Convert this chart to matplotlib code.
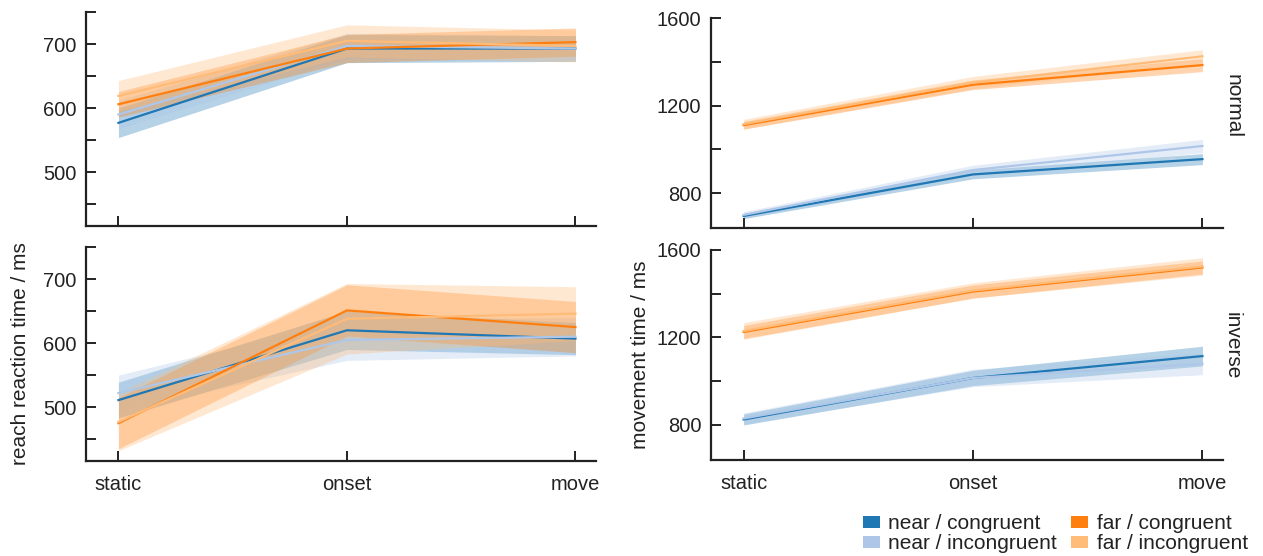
import numpy as np
import matplotlib
matplotlib.use("Agg")
from matplotlib import pyplot as plt
from matplotlib.patches import Patch
from matplotlib.ticker import MultipleLocator

plt.rcParams['font.family'] = ['Liberation Sans', 'DejaVu Sans']
plt.rcParams['font.size'] = 14.5

phases = ['static', 'onset', 'move']
conds = ['near / congruent', 'near / incongruent', 'far / congruent', 'far / incongruent']
colors = ['#1f77b4', '#aec7e8', '#ff7f0e', '#ffbb78']
ink = '#222222'

# reach reaction time (ms), means and half-widths of the bands
rt_normal = [[577, 693, 693], [590, 697, 693], [606, 693, 703], [619, 705, 697]]
rt_normal_ci = [[23, 22, 20], [22, 20, 20], [20, 22, 22], [24, 25, 25]]
rt_inverse = [[511, 620, 607], [522, 605, 610], [475, 651, 625], [477, 638, 646]]
rt_inverse_ci = [[28, 30, 25], [28, 32, 30], [40, 40, 40], [45, 55, 42]]

# movement time (ms)
mt_normal = [[695, 885, 955], [700, 905, 1015], [1110, 1295, 1385], [1115, 1305, 1425]]
mt_normal_ci = [[12, 20, 25], [15, 22, 30], [18, 22, 30], [22, 28, 30]]
mt_inverse = [[825, 1015, 1115], [830, 1015, 1080], [1225, 1410, 1520], [1230, 1415, 1525]]
mt_inverse_ci = [[25, 35, 45], [25, 40, 50], [30, 30, 30], [38, 35, 40]]

fig = plt.figure(figsize=(12.63, 5.56), dpi=100)
x = np.arange(len(phases))


def draw(ax, means, cis, ylim, major, minor, show_x):
    for m, c, col in zip(means, cis, colors):
        m = np.array(m, float)
        c = np.array(c, float)
        ax.fill_between(x, m - c, m + c, color=col, alpha=0.33, lw=0)
        ax.plot(x, m, color=col, lw=1.6)
    ax.set_xlim(-0.142, 2.09)
    ax.set_ylim(*ylim)
    ax.set_xticks(x)
    ax.set_xticklabels(phases if show_x else [])
    ax.yaxis.set_major_locator(MultipleLocator(major))
    ax.yaxis.set_minor_locator(MultipleLocator(minor))
    for s in ['top', 'right']:
        ax.spines[s].set_visible(False)
    for s in ['left', 'bottom']:
        ax.spines[s].set_linewidth(1.6)
        ax.spines[s].set_color(ink)
    ax.tick_params(which='both', direction='in', length=7, width=1.4,
                   color=ink, labelcolor=ink, labelsize=14.5)
    ax.tick_params(axis='y', pad=7)
    ax.tick_params(axis='x', pad=10)


ax1 = fig.add_axes([0.0681, 0.5935, 0.4038, 0.3849])
ax2 = fig.add_axes([0.0681, 0.1709, 0.4038, 0.3849])
ax3 = fig.add_axes([0.5630, 0.5899, 0.4054, 0.3777])
ax4 = fig.add_axes([0.5630, 0.1727, 0.4054, 0.3777])

draw(ax1, rt_normal, rt_normal_ci, (416, 750), 100, 50, False)
draw(ax2, rt_inverse, rt_inverse_ci, (416, 750), 100, 50, True)
draw(ax3, mt_normal, mt_normal_ci, (640, 1600), 400, 200, False)
draw(ax4, mt_inverse, mt_inverse_ci, (640, 1600), 400, 200, True)

ax2.set_ylabel('reach reaction time / ms', fontsize=15, color=ink)
ax2.yaxis.set_label_coords(-0.11, 0.5)
ax4.set_ylabel('movement time / ms', fontsize=15, color=ink)
ax4.yaxis.set_label_coords(-0.12, 0.5)
ax3.text(1.0, 0.58, 'normal', transform=ax3.transAxes, rotation=-90,
         ha='left', va='center', fontsize=15, color=ink)
ax4.text(1.0, 0.543, 'inverse', transform=ax4.transAxes, rotation=-90,
         ha='left', va='center', fontsize=15, color=ink)

handles = [Patch(facecolor=col, edgecolor='none') for col in colors]
leg = fig.legend(handles, conds, loc='center left',
                 bbox_to_anchor=(863 / 1263, 1 - 533.5 / 556),
                 ncol=2, frameon=False, fontsize=15, handlelength=0.82,
                 handleheight=0.5, handletextpad=0.4, columnspacing=0.67,
                 labelspacing=0.05, borderpad=0, borderaxespad=0)
for t in leg.get_texts():
    t.set_color(ink)

plt.savefig('out.png', dpi=100)
